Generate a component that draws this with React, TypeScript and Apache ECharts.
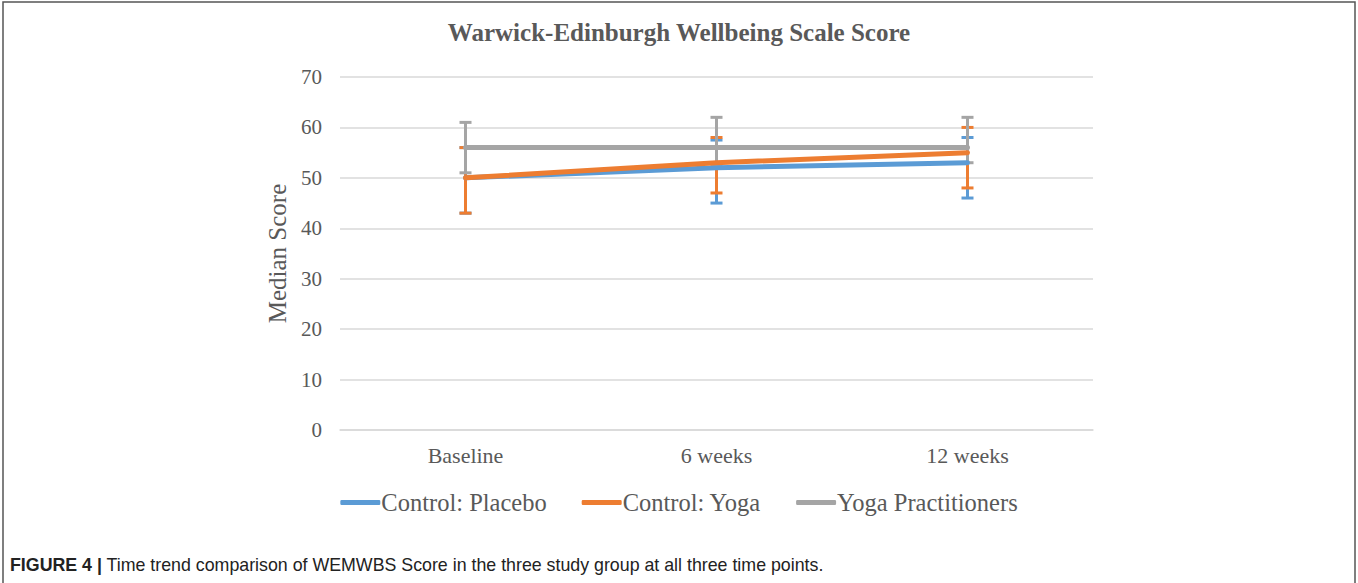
import React, { useEffect, useRef } from "react";
import * as echarts from "echarts";

const categories = ["Baseline", "6 weeks", "12 weeks"];
const seriesNames = ["Control: Placebo", "Control: Yoga", "Yoga Practitioners"];
const placebo = [50, 52, 53];
const yoga = [50, 53, 55];
const practitioners = [56, 56, 56];
const placeboLow = [43, 45, 46];
const placeboHigh = [56, 57.5, 58];
const yogaLow = [43, 47, 48];
const yogaHigh = [56, 58, 60];
const practLow = [51, 52.5, 53];
const practHigh = [61, 62, 62];
const colors = ["#5B9BD5", "#ED7D31", "#A5A5A5"];

const serif = "'Liberation Serif', 'Times New Roman', serif";
const sans = "'Liberation Sans', Arial, sans-serif";

export default function App() {
  const ref = useRef<HTMLDivElement>(null);
  useEffect(() => {
    if (!ref.current) return;
    const chart = echarts.init(ref.current, undefined, { renderer: "svg" });
    const values = [placebo, yoga, practitioners];
    const lows = [placeboLow, yogaLow, practLow];
    const highs = [placeboHigh, yogaHigh, practHigh];

    const lineSeries = seriesNames.map((name, i) => ({
      name,
      type: "line",
      data: values[i],
      symbol: "none",
      lineStyle: { width: 5, color: colors[i], cap: "round" },
      itemStyle: { color: colors[i] },
      z: 6 + i,
    }));

    const errSeries = seriesNames.map((name, i) => ({
      name: name + " err",
      type: "custom",
      data: categories.map((_, k) => [k, lows[i][k], highs[i][k]]),
      encode: { x: 0, y: [1, 2] },
      z: 2 + i,
      renderItem: (params: any, api: any) => {
        const x = api.value(0);
        const lo = api.coord([x, api.value(1)]);
        const hi = api.coord([x, api.value(2)]);
        const hw = 6;
        const st = { stroke: colors[i], lineWidth: 3 };
        return {
          type: "group",
          children: [
            { type: "line", shape: { x1: hi[0], y1: hi[1], x2: lo[0], y2: lo[1] }, style: st },
            { type: "line", shape: { x1: hi[0] - hw, y1: hi[1], x2: hi[0] + hw, y2: hi[1] }, style: st },
            { type: "line", shape: { x1: lo[0] - hw, y1: lo[1], x2: lo[0] + hw, y2: lo[1] }, style: st },
          ],
        };
      },
    }));

    chart.setOption({
      animation: false,
      backgroundColor: "#ffffff",
      title: {
        text: "Warwick-Edinburgh Wellbeing Scale Score",
        left: "center",
        top: 15,
        textStyle: { fontFamily: serif, fontSize: 25, fontWeight: "bold", color: "#595959" },
      },
      grid: { left: 340, right: 265, top: 77, bottom: 153 },
      legend: {
        data: seriesNames,
        top: 485,
        left: "center",
        itemWidth: 40,
        itemHeight: 5,
        itemGap: 35,
        icon: "roundRect",
        textStyle: { fontFamily: serif, fontSize: 24.5, color: "#595959", padding: [0, 0, 0, -4] },
      },
      xAxis: {
        type: "category",
        data: categories,
        boundaryGap: true,
        axisLine: { show: true, lineStyle: { color: "#D9D9D9", width: 1.5 } },
        axisTick: { show: false },
        axisLabel: { fontFamily: serif, fontSize: 22, color: "#595959", margin: 14 },
      },
      yAxis: {
        type: "value",
        min: 0,
        max: 70,
        interval: 10,
        name: "Median Score",
        nameLocation: "middle",
        nameGap: 47,
        nameTextStyle: { fontFamily: serif, fontSize: 25, color: "#595959" },
        axisLine: { show: false },
        axisTick: { show: false },
        splitLine: { lineStyle: { color: "#D9D9D9", width: 1.5 } },
        axisLabel: { fontFamily: serif, fontSize: 21, color: "#595959", margin: 18 },
      },
      graphic: [
        {
          type: "rect",
          shape: { x: 3, y: 2, width: 1352, height: 600 },
          style: { fill: "none", stroke: "#555555", lineWidth: 1.5 },
          silent: true,
        },
        {
          type: "text",
          left: 10,
          top: 556,
          style: {
            text: "{b|FIGURE 4 |} Time trend comparison of WEMWBS Score in the three study group at all three time points.",
            rich: {
              b: { fontFamily: sans, fontSize: 17.8, fontWeight: "bold", fill: "#222222" },
            },
            fontFamily: sans,
            fontSize: 17.8,
            fill: "#222222",
          },
        },
      ],
      series: [...lineSeries, ...errSeries],
    });
    return () => chart.dispose();
  }, []);
  return (
    <div
      ref={ref}
      style={{ position: "absolute", left: 0, top: 0, width: 1358, height: 583 }}
    />
  );
}
